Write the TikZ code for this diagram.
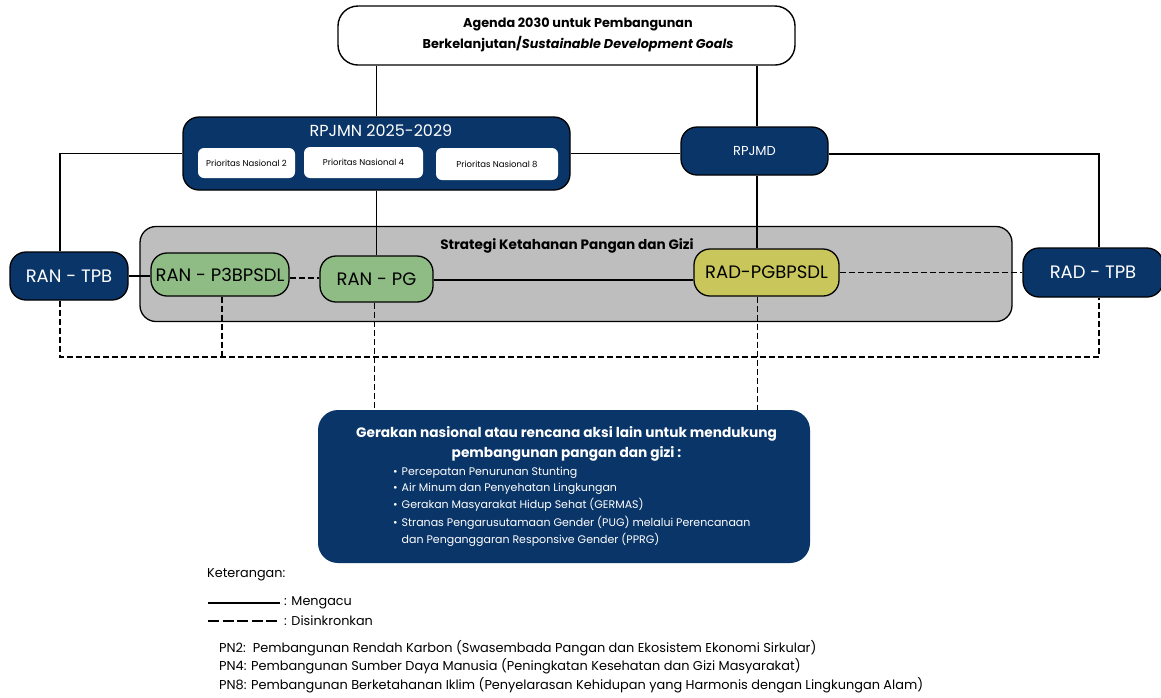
\documentclass[tikz,border=0pt]{standalone}
\usepackage{fontspec}
\setmainfont{Poppins}
\usetikzlibrary{calc}
\definecolor{navy}{HTML}{0A3568}
\definecolor{grayfill}{HTML}{BEBEBE}
\definecolor{greenfill}{HTML}{8FBC84}
\definecolor{olivefill}{HTML}{C9C75C}
\newcommand{\fs}[1]{\fontsize{#1}{#1}\selectfont}
\tikzset{
  conn/.style={draw=black, line width=1.1pt},
  sync/.style={draw=black, line width=1.1pt, dash pattern=on 6pt off 3pt},
  navybox/.style={fill=navy, draw=black, line width=1.3pt, rounded corners=16pt, text=white, inner sep=0pt, align=center},
  greenbox/.style={fill=greenfill, draw=black, line width=1.3pt, rounded corners=16pt, text=black, inner sep=0pt},
  olivebox/.style={fill=olivefill, draw=black, line width=1.3pt, rounded corners=16pt, text=black, inner sep=0pt},
  pnbox/.style={fill=white, rounded corners=6pt, inner sep=0pt, font=\fs{8.5}},
  lbl/.style={inner sep=0pt, anchor=west}
}
\begin{document}
\begin{tikzpicture}[x=1pt,y=-1pt]
\useasboundingbox[fill=white] (0,0) rectangle (1161,697);
% gray strategy box
\node[fill=grayfill, draw=black, line width=1.3pt, rounded corners=16pt, minimum width=872pt, minimum height=95pt, inner sep=0pt] (skp) at (576,274) {};
\node[inner sep=0pt, font=\bfseries\fs{13.6}] (skptitle) at (567,246) {Strategi Ketahanan Pangan dan Gizi};
% top box
\node[fill=white, draw=black, line width=1.4pt, rounded corners=20pt, minimum width=457pt, minimum height=59pt, inner sep=0pt] (sdg) at (566.5,35.5) {};
\node[inner sep=0pt, align=center, font=\bfseries\fs{12.8}] (sdgtext) at (578,35) {Agenda 2030 untuk Pembangunan\\[5pt]Berkelanjutan/\textit{Sustainable Development Goals}};
% RPJMN
\node[navybox, minimum width=387pt, minimum height=73pt] (rpjmn) at (376.5,153.5) {};
\node[inner sep=0pt, text=white, font=\fs{16}] (rpjmnt) at (381,131) {RPJMN 2025-2029};
\node[pnbox, minimum width=97pt, minimum height=30pt] (pn2) at (246.5,163) {Prioritas Nasional 2};
\node[pnbox, minimum width=119pt, minimum height=31pt] (pn4) at (363.5,162.5) {Prioritas Nasional 4};
\node[pnbox, minimum width=122pt, minimum height=32pt] (pn8) at (497,164) {Prioritas Nasional 8};
% RPJMD
\node[navybox, minimum width=147pt, minimum height=48pt, font=\fs{13}] (rpjmd) at (754.5,151) {RPJMD};
% side boxes
\node[navybox, minimum width=118pt, minimum height=48pt, font=\fs{18}] (rantpb) at (69,276) {RAN - TPB};
\node[navybox, minimum width=140pt, minimum height=49pt, font=\fs{18}] (radtpb) at (1093,272.5) {RAD - TPB};
% inner boxes
\node[greenbox, minimum width=138pt, minimum height=43pt, font=\fs{18}] (ranp3) at (220,274.5) {RAN - P3BPSDL};
\node[greenbox, minimum width=113pt, minimum height=46pt, font=\fs{18}] (ranpg) at (376.5,279) {RAN - PG};
\node[olivebox, minimum width=145pt, minimum height=47pt, font=\fs{18}] (radpg) at (766.5,272.5) {RAD-PGBPSDL};
% bottom box
\node[fill=navy, rounded corners=20pt, minimum width=492pt, minimum height=153pt, inner sep=0pt] (gerak) at (564,486.5) {};
\node[inner sep=0pt, text=white, align=center, font=\bfseries\fs{13.7}] (geraktitle) at (566.5,444) {Gerakan nasional atau rencana aksi lain untuk mendukung\\[4pt]pembangunan pangan dan gizi :};
\node[inner sep=0pt, anchor=north west, text=white, font=\fs{11}, align=left] (gerakitems) at (393,467) {%
\begin{tabular}{@{}l@{\hspace{4pt}}l@{}}
\textbullet & Percepatan Penurunan Stunting\\[4pt]
\textbullet & Air Minum dan Penyehatan Lingkungan\\[4pt]
\textbullet & Gerakan Masyarakat Hidup Sehat (GERMAS)\\[4pt]
\textbullet & Stranas Pengarusutamaan Gender (PUG) melalui Perencanaan\\[4pt]
 & dan Penganggaran Responsive Gender (PPRG)
\end{tabular}};
% connectors (solid)
\draw[conn] (sdg.south -| rpjmn.north) -- (rpjmn.north);
\draw[conn] ([xshift=2.5pt]sdg.south -| rpjmd.north) -- ([xshift=2.5pt]rpjmd.north);
\draw[conn] (rpjmn.south) -- (rpjmn.south |- ranpg.north);
\draw[conn] (rpjmn.east) -- (rpjmn.east -| rpjmd.west);
\draw[conn] (rpjmn.west) -| ([xshift=-9pt]rantpb.north);
\draw[conn] ([yshift=-3pt]rpjmd.east) -| ([xshift=6pt]radtpb.north);
\draw[conn] ([xshift=2.5pt]rpjmd.south) -- ([xshift=2.5pt]rpjmd.south |- radpg.north);
\draw[conn] (rantpb.east) -- (rantpb.east -| ranp3.west);
\draw[conn] ([yshift=-1pt]ranpg.east) -- ([yshift=-1pt]ranpg.east -| radpg.west);
% connectors (dashed)
\coordinate (bus) at (0,357);
\draw[sync] (ranp3.east |- 0,278) -- (ranpg.west |- 0,278);
\draw[sync] (radpg.east) -- (radpg.east -| radtpb.west);
\draw[sync] ([xshift=-9pt]rantpb.south) -- ([xshift=-9pt]rantpb.south |- bus) -| ([xshift=6pt]radtpb.south);
\draw[sync] ([xshift=2pt]ranp3.south) -- ([xshift=2pt]ranp3.south |- bus);
\draw[sync] ([xshift=-2pt]ranpg.south) -- ([xshift=-2pt]ranpg.south |- gerak.north);
\draw[sync] ([xshift=-9pt]radpg.south) -- ([xshift=-9pt]radpg.south |- gerak.north);
% legend
\node[lbl, font=\fs{12.8}] (ket) at (207,575) {Keterangan:};
\coordinate (l1a) at (208,603);
\coordinate (l1b) at (280,603);
\coordinate (l2a) at (208,621);
\coordinate (l2b) at (280,621);
\draw[line width=1.6pt] (l1a) -- (l1b);
\draw[line width=2pt, dash pattern=on 11pt off 3.5pt] (l2a) -- (l2b);
\node[lbl, font=\fs{12.8}] (mengacu) at (284,603) {: Mengacu};
\node[lbl, font=\fs{12.8}] (disink) at (284,621) {: Disinkronkan};
\node[lbl, font=\fs{12.9}] (pn2t) at (219,648) {PN2:\ \ Pembangunan Rendah Karbon (Swasembada Pangan dan Ekosistem Ekonomi Sirkular)};
\node[lbl, font=\fs{12.9}] (pn4t) at (219,666) {PN4: Pembangunan Sumber Daya Manusia (Peningkatan Kesehatan dan Gizi Masyarakat)};
\node[lbl, font=\fs{12.9}] (pn8t) at (219,685) {PN8: Pembangunan Berketahanan Iklim (Penyelarasan Kehidupan yang Harmonis dengan Lingkungan Alam)};
\end{tikzpicture}
\end{document}
